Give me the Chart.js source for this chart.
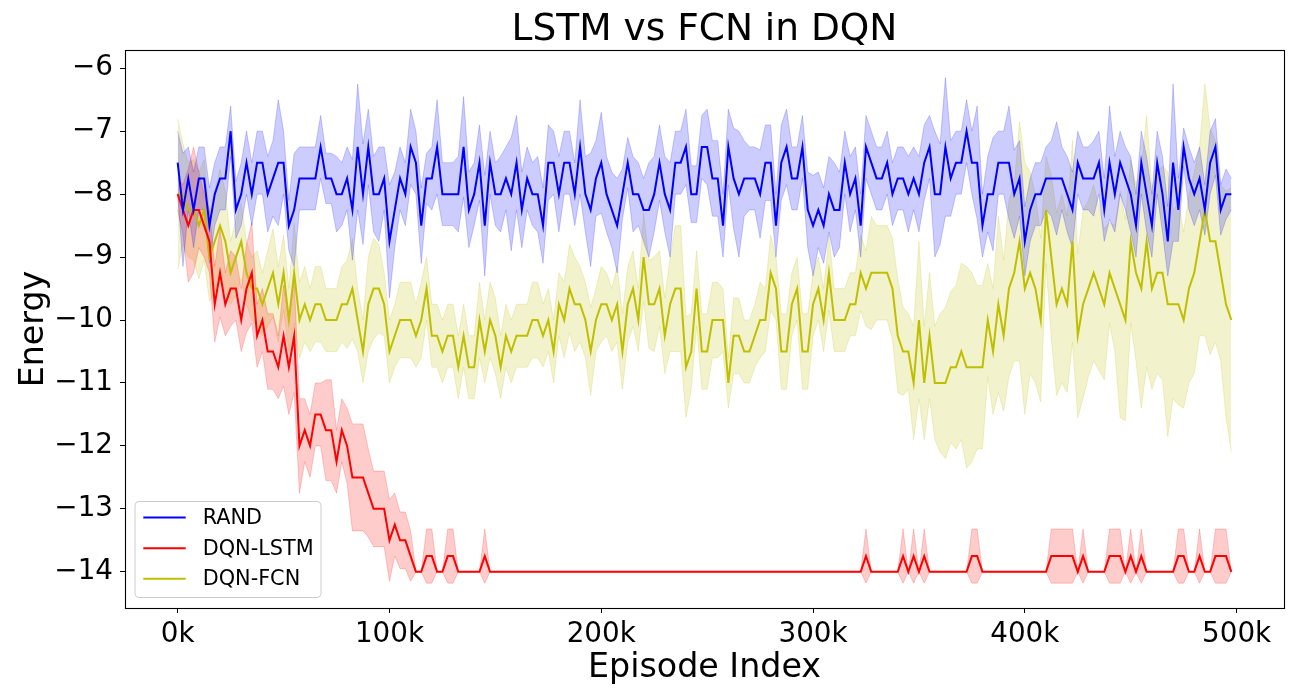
<!DOCTYPE html>
<html lang="en">
<head>
<meta charset="UTF-8">
<title>LSTM vs FCN in DQN</title>
<script src="https://cdn.jsdelivr.net/npm/chart.js"></script>
<style>
body { margin: 0; background: #fff; }
canvas { display: block; }
</style>
</head>
<body>
<canvas id="energyChart" width="1300" height="700"></canvas>
<script>
// one evaluation every 2.5k episodes, 200 evaluations
const stepK = 2.5;

const randMean = [
  -7.5, -8.25, -7.75, -8.25, -7.75, -7.75, -8.5, -8, -7.75, -7.75,
  -7, -8.25, -8, -7.5, -8, -7.5, -7.5, -8, -7.75, -7.5,
  -7.5, -8.5, -8.25, -7.75, -7.75, -7.75, -7.75, -7.25, -7.75, -7.75,
  -8, -8, -7.75, -8.25, -7.25, -8, -7.25, -8, -8, -7.75,
  -8.75, -8.25, -7.75, -8, -7.25, -7.5, -8.5, -7.75, -7.75, -7.25,
  -8, -8, -8, -8, -7.25, -8.25, -8, -7.5, -8.5, -7.5,
  -8, -8, -7.75, -8, -7.5, -8.25, -7.75, -8, -8, -8.5,
  -7.5, -7.5, -8, -7.5, -7.5, -8, -7.25, -8, -8.25, -7.75,
  -7.5, -8, -8.25, -8.5, -8, -7.5, -8, -8, -8.25, -8.25,
  -8, -7.5, -8, -8.25, -7.5, -7.5, -7.25, -8, -8, -7.25,
  -7.25, -7.75, -7.75, -8.5, -7.25, -7.75, -8, -7.75, -7.75, -7.75,
  -8, -7.5, -7.5, -8.5, -7.5, -7.25, -7.75, -7.75, -7.25, -8.25,
  -8.5, -8.25, -8.5, -8, -8.25, -8.25, -7.5, -8, -7.75, -8.5,
  -7.25, -7.5, -7.75, -7.75, -7.5, -8, -7.75, -7.75, -8, -7.75,
  -8, -7.5, -7.25, -8, -8, -7.25, -7.75, -7.5, -7.5, -7,
  -7.5, -7.5, -8.5, -8, -8, -7.5, -7.5, -7.5, -8, -7.75,
  -8.75, -8.25, -8, -8, -7.75, -7.75, -7.75, -7.75, -8, -8.25,
  -7.5, -7.75, -7.75, -7.75, -7.5, -8.25, -7.5, -8, -7.5, -7.75,
  -8, -8.5, -7.5, -8, -8.5, -7.5, -8, -8.75, -7.5, -8.25,
  -7.25, -7.75, -8, -7.75, -8.25, -7.5, -7.25, -8.25, -8, -8
];
const randStd = [
  0.5, 0.9, 0.5, 0.6, 0.5, 0.5, 0.6, 0.5, 0.5, 0.5,
  0.4, 0.45, 0.5, 0.5, 0.5, 0.5, 0.5, 0.6, 0.6, 1.0,
  0.5, 0.4, 0.9, 0.5, 0.5, 0.5, 0.5, 0.5, 0.4, 0.4,
  0.6, 0.5, 0.5, 0.8, 1.0, 0.8, 0.6, 0.6, 0.75, 0.5,
  0.9, 0.6, 0.5, 0.5, 0.6, 0.5, 0.6, 0.4, 0.5, 0.75,
  0.5, 0.5, 0.5, 0.6, 0.8, 0.6, 0.5, 0.6, 0.8, 0.5,
  0.5, 0.6, 0.5, 0.9, 0.75, 0.6, 0.5, 0.5, 0.6, 0.6,
  0.6, 0.5, 0.6, 0.5, 0.5, 0.5, 0.75, 0.6, 0.9, 0.6,
  0.8, 0.6, 0.6, 0.75, 0.4, 0.4, 0.6, 0.5, 0.5, 0.75,
  0.6, 0.6, 0.6, 0.75, 0.5, 0.5, 0.6, 0.45, 0.45, 0.5,
  0.6, 0.6, 0.6, 0.5, 0.6, 0.8, 1.0, 0.6, 0.5, 0.5,
  0.7, 0.6, 0.6, 0.5, 0.6, 0.6, 0.5, 0.5, 0.5, 0.6,
  0.8, 0.6, 0.6, 0.6, 0.75, 0.6, 0.5, 0.6, 0.5, 0.5,
  0.5, 0.5, 0.5, 0.5, 0.5, 0.5, 0.5, 0.5, 0.6, 0.5,
  0.6, 0.6, 0.5, 1.0, 0.8, 1.1, 0.6, 0.5, 0.5, 0.5,
  0.5, 0.9, 0.5, 0.6, 0.9, 0.5, 0.5, 0.9, 0.7, 0.6,
  0.55, 0.5, 0.5, 0.5, 0.5, 0.6, 0.9, 0.5, 0.6, 0.6,
  0.5, 0.5, 0.5, 0.6, 0.5, 0.5, 0.9, 0.6, 0.5, 0.5,
  0.6, 0.5, 0.5, 0.6, 0.5, 0.5, 0.6, 0.55, 1.25, 0.5,
  0.3, 0.5, 0.5, 0.5, 0.4, 0.5, 0.45, 0.4, 0.4, 0.25
];

const lstmMean = [
  -8, -8.25, -8.5, -8.25, -8.25, -8.5, -8.75, -9.75, -9.25, -9.75,
  -9.5, -9.5, -10, -9.5, -9.25, -10.25, -10, -10.5, -10.5, -10.75,
  -10.25, -10.75, -10.25, -12, -11.75, -12, -11.5, -11.5, -11.75, -11.75,
  -12.25, -11.75, -12, -12.5, -12.5, -12.5, -12.75, -13, -13, -13,
  -13.5, -13.25, -13.5, -13.5, -13.75, -14, -14, -13.75, -13.75, -14,
  -14, -13.75, -13.75, -14, -14, -14, -14, -14, -13.75, -14,
  -14, -14, -14, -14, -14, -14, -14, -14, -14, -14,
  -14, -14, -14, -14, -14, -14, -14, -14, -14, -14,
  -14, -14, -14, -14, -14, -14, -14, -14, -14, -14,
  -14, -14, -14, -14, -14, -14, -14, -14, -14, -14,
  -14, -14, -14, -14, -14, -14, -14, -14, -14, -14,
  -14, -14, -14, -14, -14, -14, -14, -14, -14, -14,
  -14, -14, -14, -14, -14, -14, -14, -14, -14, -14,
  -13.75, -14, -14, -14, -14, -14, -14, -13.75, -14, -13.75,
  -14, -13.75, -14, -14, -14, -14, -14, -14, -14, -14,
  -13.75, -13.75, -14, -14, -14, -14, -14, -14, -14, -14,
  -14, -14, -14, -14, -14, -13.75, -13.75, -13.75, -13.75, -13.75,
  -14, -13.75, -14, -14, -14, -14, -13.75, -13.75, -13.75, -14,
  -13.75, -14, -13.75, -14, -14, -14, -14, -14, -14, -13.75,
  -13.75, -14, -14, -13.75, -14, -14, -13.75, -13.75, -13.75, -14
];
const lstmStd = [
  0.25, 0.4, 0.9, 1.0, 0.6, 0.5, 0.5, 0.6, 0.7, 0.5,
  0.6, 0.5, 0.5, 0.7, 0.8, 0.5, 0.5, 0.6, 0.6, 0.5,
  0.8, 0.75, 0.9, 0.75, 0.5, 0.5, 0.5, 0.5, 0.8, 0.8,
  0.5, 0.5, 0.6, 0.85, 0.85, 0.85, 0.7, 0.6, 0.6, 0.6,
  0.65, 0.5, 0.45, 0.45, 0.4, 0, 0, 0.43, 0.43, 0,
  0, 0.43, 0.43, 0, 0, 0, 0, 0, 0.43, 0,
  0, 0, 0, 0, 0, 0, 0, 0, 0, 0,
  0, 0, 0, 0, 0, 0, 0, 0, 0, 0,
  0, 0, 0, 0, 0, 0, 0, 0, 0, 0,
  0, 0, 0, 0, 0, 0, 0, 0, 0, 0,
  0, 0, 0, 0, 0, 0, 0, 0, 0, 0,
  0, 0, 0, 0, 0, 0, 0, 0, 0, 0,
  0, 0, 0, 0, 0, 0, 0, 0, 0, 0,
  0.43, 0, 0, 0, 0, 0, 0, 0.43, 0, 0.43,
  0, 0.43, 0, 0, 0, 0, 0, 0, 0, 0,
  0.43, 0.43, 0, 0, 0, 0, 0, 0, 0, 0,
  0, 0, 0, 0, 0, 0.43, 0.43, 0.43, 0.43, 0.43,
  0, 0.43, 0, 0, 0, 0, 0.43, 0.43, 0.43, 0,
  0.43, 0, 0.43, 0, 0, 0, 0, 0, 0, 0.43,
  0.43, 0, 0, 0.43, 0, 0, 0.43, 0.43, 0.43, 0
];

const fcnMean = [
  -8, -8, -8.25, -8.25, -8.5, -8.25, -9, -8.75, -8.5, -8.75,
  -9.25, -9, -8.75, -9.25, -9.5, -9.5, -9.75, -9.5, -9.25, -9.75,
  -9.25, -10, -9.25, -10, -9.75, -10, -9.75, -9.75, -10, -10,
  -10, -9.75, -9.75, -9.5, -10, -10.5, -9.75, -9.5, -9.5, -9.75,
  -10.5, -10.25, -10, -10, -10, -10.25, -10, -9.5, -10.25, -10.25,
  -10.5, -10.25, -10.25, -10.75, -10.25, -10.75, -10.75, -10, -10.5, -10,
  -10.25, -10.75, -10.25, -10.5, -10.25, -10.25, -10.25, -10, -10, -10.25,
  -10, -10.5, -9.75, -10, -9.5, -9.75, -9.75, -10, -10.5, -10,
  -9.75, -9.75, -10, -9.75, -10.5, -9.75, -9.5, -10, -9, -9.75,
  -9.75, -9.5, -10.25, -9.75, -9.5, -9.5, -10.75, -10.5, -9.5, -10.5,
  -10.5, -10, -10, -10, -11, -10.25, -10.25, -10.5, -10.5, -10.25,
  -10, -10, -9.25, -9.5, -10.5, -10.5, -9.75, -9.5, -10.5, -10.5,
  -9.75, -9.5, -10, -9.25, -10, -10, -10, -9.75, -9.75, -9.25,
  -9.5, -9.25, -9.25, -9.25, -9.25, -9.5, -10.25, -10.5, -10.5, -11,
  -10, -11, -10.25, -11, -11, -11, -10.75, -10.75, -10.5, -10.75,
  -10.75, -10.75, -10.75, -10, -10.5, -9.75, -10.25, -9.5, -9.25, -8.75,
  -9.5, -9.25, -9.5, -10, -8.25, -9, -9.75, -9.5, -9.75, -8.75,
  -10.25, -9.75, -9.5, -9.25, -9.5, -9.75, -9.25, -9.5, -9.75, -10,
  -8.75, -9.25, -9.5, -8.75, -9.5, -9.25, -9.25, -9.75, -9.75, -9.75,
  -10, -9.5, -9.25, -8.75, -8.25, -8.75, -8.75, -9.25, -9.75, -10
];
const fcnStd = [
  1.2, 0.8, 0.75, 0.8, 0.85, 0.8, 0.7, 0.8, 0.9, 0.8,
  0.5, 0.6, 0.6, 0.5, 0.5, 0.6, 0.5, 0.6, 0.7, 0.6,
  0.6, 0.5, 0.8, 0.6, 0.6, 0.5, 0.6, 0.6, 0.5, 0.5,
  0.5, 0.6, 0.7, 0.8, 0.5, 0.5, 0.75, 0.8, 0.7, 0.5,
  0.5, 0.5, 0.6, 0.6, 0.6, 0.5, 0.6, 0.5, 0.5, 0.5,
  0.5, 0.5, 0.5, 0.5, 0.5, 0.5, 0.5, 0.6, 0.5, 0.6,
  0.6, 0.5, 0.5, 0.5, 0.5, 0.5, 0.5, 0.6, 0.6, 0.5,
  0.5, 0.5, 0.5, 0.6, 0.7, 0.75, 0.6, 0.6, 0.7, 0.5,
  0.6, 0.5, 0.5, 0.6, 0.6, 0.6, 0.6, 0.5, 0.7, 0.7,
  0.75, 0.6, 0.6, 0.75, 1.0, 1.0, 0.8, 0.6, 0.6, 0.6,
  0.6, 0.6, 0.6, 0.5, 0.4, 0.6, 0.6, 0.5, 0.5, 0.5,
  0.6, 0.5, 0.6, 0.5, 0.6, 0.6, 0.5, 0.5, 0.6, 0.6,
  0.5, 0.5, 0.5, 0.6, 0.5, 0.5, 0.5, 0.5, 0.5, 0.6,
  0.6, 0.9, 0.75, 0.75, 0.75, 0.8, 0.9, 0.7, 0.6, 0.9,
  1.25, 0.9, 1.0, 0.9, 1.1, 1.2, 1.2, 1.3, 1.4, 1.6,
  1.5, 1.3, 1.3, 0.9, 1.0, 1.4, 1.2, 1.4, 1.4, 1.9,
  2.0, 1.6, 1.5, 1.3, 0.85, 1.3, 1.45, 1.5, 1.4, 1.6,
  1.3, 1.5, 1.4, 1.4, 1.3, 1.2, 0.8, 1.0, 1.8, 1.6,
  1.3, 1.4, 1.9, 2.0, 1.6, 1.6, 1.7, 2.1, 1.5, 1.6,
  1.4, 1.5, 1.6, 1.5, 2.0, 1.8, 1.6, 1.4, 1.8, 2.1
];

const xTicks = [0, 100, 200, 300, 400, 500];
const yTicks = [-14, -13, -12, -11, -10, -9, -8, -7, -6];

const series = [
  { label: 'RAND', mean: randMean, std: randStd, color: '#0000ff', shade: 'rgba(0, 0, 255, 0.2)' },
  { label: 'DQN-LSTM', mean: lstmMean, std: lstmStd, color: '#ff0000', shade: 'rgba(255, 0, 0, 0.2)' },
  { label: 'DQN-FCN', mean: fcnMean, std: fcnStd, color: '#bfbf00', shade: 'rgba(191, 191, 0, 0.2)' }
];

const FONT = 'DejaVu Sans';

function toPoints(values) {
  return values.map((v, i) => ({ x: i * stepK, y: v }));
}
function bandPoints(mean, std, sign) {
  return mean.map((v, i) => ({ x: i * stepK, y: v + sign * std[i] }));
}

const datasets = [];
series.forEach(s => {
  datasets.push({
    label: s.label + ' low', data: bandPoints(s.mean, s.std, -1), isBand: true,
    borderColor: s.shade, borderWidth: 1, pointRadius: 0, fill: false, order: 2
  });
  datasets.push({
    label: s.label + ' high', data: bandPoints(s.mean, s.std, 1), isBand: true,
    borderColor: s.shade, backgroundColor: s.shade, borderWidth: 1, pointRadius: 0, fill: '-1', order: 2
  });
});
series.forEach(s => {
  datasets.push({
    label: s.label, data: toPoints(s.mean),
    borderColor: s.color, borderWidth: 2, pointRadius: 0, fill: false, order: 1
  });
});

// matplotlib style box around the axes
const frame = {
  id: 'frame',
  afterDraw(chart) {
    const { ctx, chartArea: a } = chart;
    ctx.save();
    ctx.strokeStyle = '#000';
    ctx.lineWidth = 1.1;
    ctx.strokeRect(Math.round(a.left) + 0.5, Math.round(a.top) + 0.5,
      Math.round(a.right - a.left), Math.round(a.bottom - a.top));
    ctx.restore();
  }
};

// legend in the lower left corner, inside the axes
const cornerLegend = {
  id: 'cornerLegend',
  afterDraw(chart) {
    const { ctx, chartArea: a } = chart;
    const lines = chart.data.datasets.filter(d => !d.isBand);
    const w = 186, h = 96, r = 4;
    const x0 = a.left + 10, y0 = a.bottom - 10.5 - h;
    ctx.save();
    ctx.beginPath();
    ctx.moveTo(x0 + r, y0);
    ctx.lineTo(x0 + w - r, y0);
    ctx.quadraticCurveTo(x0 + w, y0, x0 + w, y0 + r);
    ctx.lineTo(x0 + w, y0 + h - r);
    ctx.quadraticCurveTo(x0 + w, y0 + h, x0 + w - r, y0 + h);
    ctx.lineTo(x0 + r, y0 + h);
    ctx.quadraticCurveTo(x0, y0 + h, x0, y0 + h - r);
    ctx.lineTo(x0, y0 + r);
    ctx.quadraticCurveTo(x0, y0, x0 + r, y0);
    ctx.closePath();
    ctx.fillStyle = 'rgba(255, 255, 255, 0.8)';
    ctx.fill();
    ctx.strokeStyle = '#cccccc';
    ctx.lineWidth = 1;
    ctx.stroke();
    ctx.font = '20.8px "' + FONT + '"';
    ctx.textBaseline = 'middle';
    lines.forEach((d, k) => {
      const y = y0 + 16 + k * 30.65;
      ctx.strokeStyle = d.borderColor;
      ctx.lineWidth = 2;
      ctx.beginPath();
      ctx.moveTo(x0 + 8.3, y);
      ctx.lineTo(x0 + 50.7, y);
      ctx.stroke();
      ctx.fillStyle = '#000';
      ctx.fillText(d.label, x0 + 67.7, y + 1);
    });
    ctx.restore();
  }
};

const minus = v => (v < 0 ? '\u2212' + Math.abs(v) : String(v));

new Chart(document.getElementById('energyChart'), {
  type: 'line',
  data: { datasets: datasets },
  plugins: [frame, cornerLegend],
  options: {
    responsive: false,
    animation: false,
    devicePixelRatio: 1,
    layout: { padding: { left: 0, right: 16, top: 0, bottom: 0 } },
    elements: { line: { tension: 0 } },
    plugins: {
      legend: { display: false },
      tooltip: { enabled: false },
      title: {
        display: true,
        fullSize: false,
        text: 'LSTM vs FCN in DQN',
        color: '#000',
        font: { family: FONT, size: 37.5, weight: 'normal', lineHeight: 1 },
        padding: { top: 12, bottom: 0.5 }
      }
    },
    scales: {
      x: {
        type: 'linear',
        min: -24.875,
        max: 522.375,
        afterBuildTicks: axis => { axis.ticks = xTicks.map(v => ({ value: v })); },
        afterFit: scale => { scale.height = 92; },
        ticks: {
          callback: v => v + 'k',
          color: '#000',
          font: { family: FONT, size: 27.8 },
          padding: 5,
          maxRotation: 0,
          autoSkip: false
        },
        grid: { display: true, drawOnChartArea: false, drawTicks: true, tickLength: 5, color: '#000', tickColor: '#000' },
        border: { display: true, color: '#000', width: 1 },
        title: {
          display: true,
          text: 'Episode Index',
          color: '#000',
          font: { family: FONT, size: 33.3, lineHeight: 1 },
          padding: { top: 0, bottom: 15 }
        }
      },
      y: {
        type: 'linear',
        min: -14.575,
        max: -5.71,
        afterBuildTicks: axis => { axis.ticks = yTicks.map(v => ({ value: v })); },
        afterFit: scale => { scale.width = 125; },
        ticks: {
          callback: minus,
          color: '#000',
          font: { family: FONT, size: 27.8 },
          padding: 7,
          autoSkip: false
        },
        grid: { display: true, drawOnChartArea: false, drawTicks: true, tickLength: 5, color: '#000', tickColor: '#000' },
        border: { display: true, color: '#000', width: 1 },
        title: {
          display: true,
          text: 'Energy',
          color: '#000',
          font: { family: FONT, size: 33.3, lineHeight: 1 },
          padding: { top: 18, bottom: 0 }
        }
      }
    }
  }
});
</script>
</body>
</html>
